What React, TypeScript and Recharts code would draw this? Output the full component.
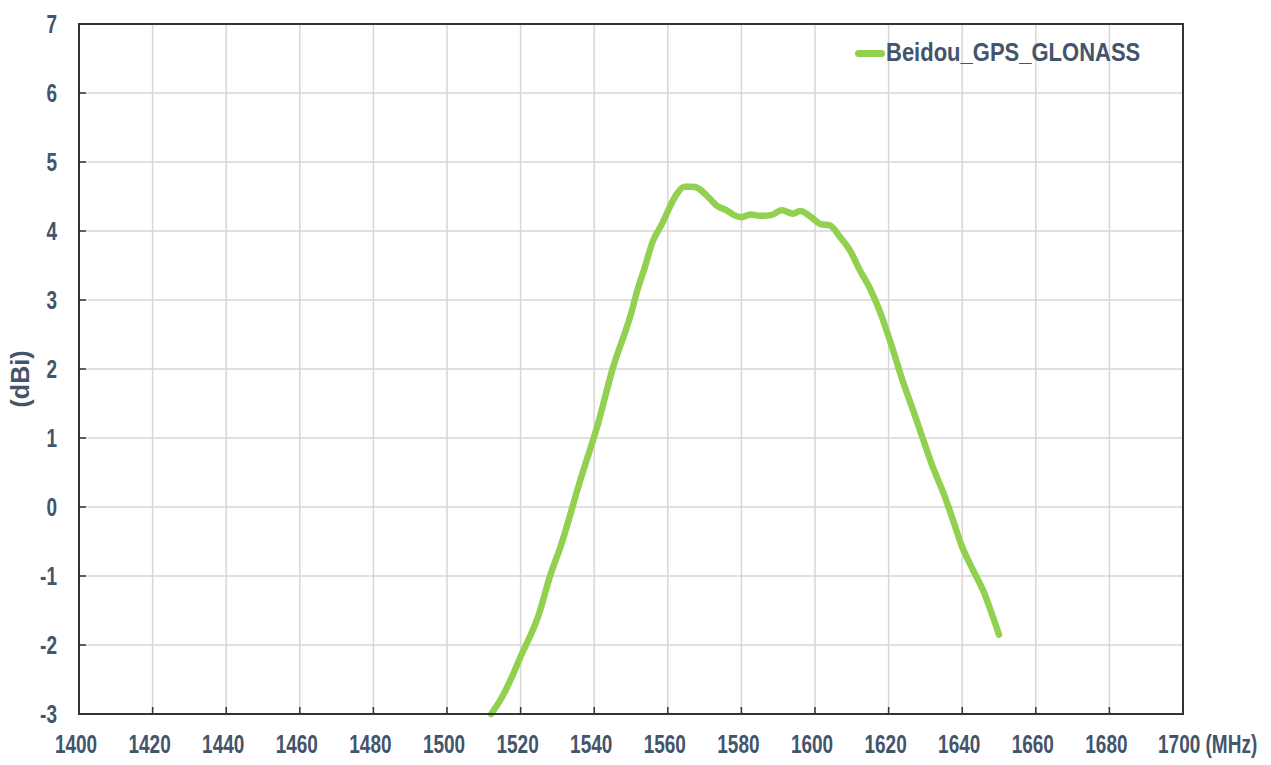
import React from 'react';
import {
  LineChart,
  Line,
  XAxis,
  YAxis,
  CartesianGrid,
  Legend,
  ReferenceArea,
} from 'recharts';

// frequency (MHz) and gain (dBi)
const freq = [
  1512, 1515, 1518, 1520, 1525, 1528, 1531, 1536,
  1541, 1545, 1550, 1552, 1553.5, 1556, 1558.5, 1561, 1562.5,
  1564.5, 1567, 1568.5, 1571, 1573.5, 1576, 1578, 1580, 1582.5, 1585,
  1588, 1591, 1594, 1596, 1599, 1601.5, 1604, 1607, 1609.5, 1612,
  1615, 1618, 1620.5, 1624, 1627, 1629.5, 1632, 1635, 1637.5, 1640,
  1643, 1646, 1648, 1650,
];
const gain = [
  -3.0, -2.75, -2.42, -2.17, -1.55, -1.0, -0.55, 0.35,
  1.2, 2.0, 2.8, 3.19, 3.43, 3.86, 4.11, 4.4, 4.54,
  4.64, 4.64, 4.61, 4.49, 4.36, 4.3, 4.23, 4.2, 4.24, 4.22,
  4.23, 4.3, 4.25, 4.29, 4.2, 4.1, 4.08, 3.9, 3.72, 3.45,
  3.16, 2.78, 2.39, 1.8, 1.35, 0.96, 0.58, 0.19, -0.19, -0.58,
  -0.92, -1.25, -1.54, -1.85,
];

const xTicks = [1400, 1420, 1440, 1460, 1480, 1500, 1520, 1540, 1560, 1580, 1600, 1620, 1640, 1660, 1680, 1700];
const yTicks = [-3, -2, -1, 0, 1, 2, 3, 4, 5, 6, 7];
const seriesName = 'Beidou_GPS_GLONASS';

const data = freq.map((f, i) => ({ f, g: gain[i] }));

const GREEN = '#92d050';
const TEXT = '#44546a';
const FONT = "'Liberation Sans', Arial, sans-serif";
// the source chart's text is drawn taller than it is wide
const STRETCH = 1.35;

// x tick: last one carries the unit
const XTick = (props: any) => {
  const { x, y, payload } = props;
  const v = payload.value;
  const last = v === 1700;
  return (
    <g transform={`translate(${last ? x - 25 : x - 3},${y + 46}) scale(1,${STRETCH})`}>
      <text x={0} y={0} textAnchor={last ? 'start' : 'middle'} fill={TEXT}
        fontFamily={FONT} fontWeight="bold" fontSize={19}>
        {last ? '1700 (MHz)' : v}
      </text>
    </g>
  );
};

const YTick = (props: any) => {
  const { x, y, payload } = props;
  return (
    <g transform={`translate(${x},${y}) scale(1,${STRETCH})`}>
      <text x={0} y={0} dy="0.36em" textAnchor="end" fill={TEXT}
        fontFamily={FONT} fontWeight="bold" fontSize={19}>
        {payload.value}
      </text>
    </g>
  );
};

const YLabel = () => (
  <text x={20} y={379} transform="rotate(-90 20 379)" textAnchor="middle"
    dominantBaseline="central" fill={TEXT} fontFamily={FONT}
    fontWeight="bold" fontSize={25}>
    (dBi)
  </text>
);

const LegendContent = () => (
  <div style={{ display: 'flex', alignItems: 'center' }}>
    <span style={{ display: 'inline-block', width: 30, height: 7, borderRadius: 3.5, background: GREEN }} />
    <span style={{
      marginLeft: 1, color: TEXT, fontFamily: FONT, fontWeight: 'bold', fontSize: 22,
      lineHeight: '30px', display: 'inline-block', transform: 'scaleY(1.15)',
    }}>
      {seriesName}
    </span>
  </div>
);

export default function App() {
  return (
    <div style={{ position: 'absolute', left: 0, top: 0, background: '#fff' }}>
      <LineChart
        width={1271}
        height={765}
        data={data}
        margin={{ top: 24, right: 88, left: 0, bottom: 0 }}
      >
        <CartesianGrid stroke="#d6d6d6" strokeWidth={1.5} />
        <XAxis
          dataKey="f"
          type="number"
          domain={[1400, 1700]}
          ticks={xTicks}
          interval={0}
          height={51}
          axisLine={{ stroke: '#333', strokeWidth: 2 }}
          tickLine={{ stroke: '#333', strokeWidth: 1.5 }}
          tickSize={-7}
          tickMargin={0}
          tick={<XTick />}
        />
        <YAxis
          type="number"
          domain={[-3, 7]}
          ticks={yTicks}
          interval={0}
          width={79}
          axisLine={{ stroke: '#333', strokeWidth: 2 }}
          tickLine={{ stroke: '#333', strokeWidth: 1.5 }}
          tickSize={-7}
          tickMargin={29}
          tick={<YTick />}
          label={<YLabel />}
        />
        <ReferenceArea x1={1400} x2={1700} y1={-3} y2={7} fill="none" stroke="#333" strokeWidth={2} />
        <Legend
          layout="vertical"
          align="center"
          verticalAlign="middle"
          content={<LegendContent />}
          wrapperStyle={{ left: 855, top: 38, width: 320, height: 30 }}
        />
        <Line
          type="monotone"
          dataKey="g"
          name={seriesName}
          stroke={GREEN}
          strokeWidth={6.5}
          strokeLinecap="round"
          strokeLinejoin="round"
          dot={false}
          isAnimationActive={false}
        />
      </LineChart>
    </div>
  );
}
